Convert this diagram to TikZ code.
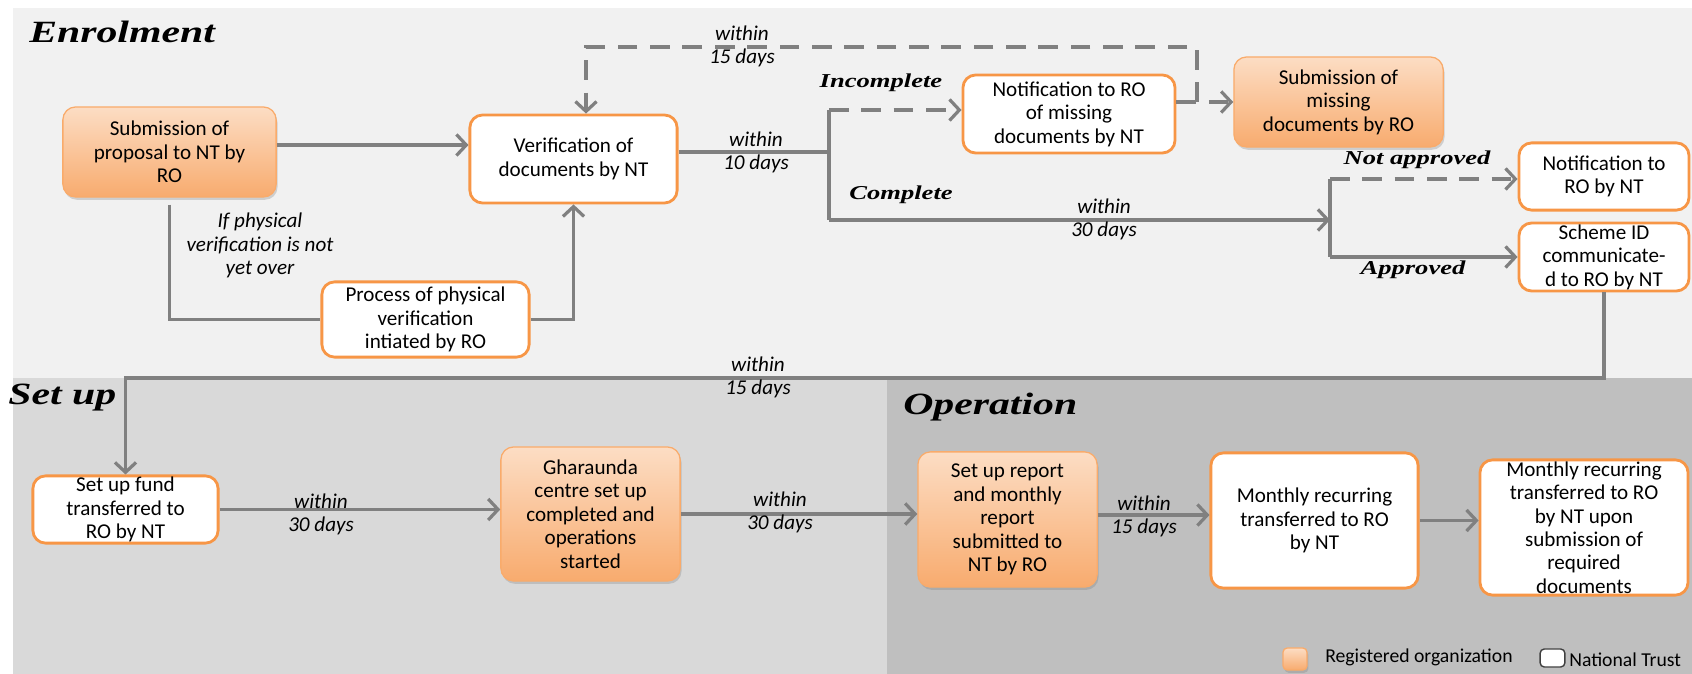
\documentclass[tikz,border=0pt]{standalone}
\usepackage{fontspec}
\setmainfont{Carlito}
\newfontfamily\headserif[FakeStretch=1.35]{Liberation Serif}
\usetikzlibrary{arrows.meta,shadows}

\definecolor{flowgray}{HTML}{808080}
\definecolor{orgedge}{HTML}{F79646}
\definecolor{orgtop}{HTML}{FCDDC4}
\definecolor{orgbot}{HTML}{F8AB6E}
\definecolor{enrolbg}{HTML}{F1F1F1}
\definecolor{setupbg}{HTML}{D9D9D9}
\definecolor{operbg}{HTML}{BFBFBF}

\newcommand{\boxfont}{\fontsize{15}{16.7}\selectfont}
\newcommand{\daysfont}{\fontsize{15}{16.5}\selectfont\itshape}
\newcommand{\branchfont}{\headserif\fontsize{14}{16}\selectfont\bfseries\itshape}
\newcommand{\titlefont}{\headserif\fontsize{22}{26}\selectfont\bfseries\itshape}

\tikzset{
  orgbox/.style={draw=orgedge!80, line width=0.9pt, rounded corners=9pt,
    top color=orgtop, bottom color=orgbot, align=center, font=\boxfont,
    inner sep=0pt, drop shadow={opacity=0.3, shadow xshift=1pt, shadow yshift=-2pt}},
  ntbox/.style={draw=orgedge, line width=2pt, fill=white, rounded corners=9pt,
    align=center, font=\boxfont, inner sep=0pt},
  flow/.style={draw=flowgray, line width=2.3pt},
  flowarr/.style={flow, -{Straight Barb[length=7pt,width=15pt]}},
  dashflow/.style={flow, dash pattern=on 14pt off 9pt},
  dasharr/.style={dashflow, -{Straight Barb[length=7pt,width=15pt]}},
  daylabel/.style={font=\daysfont, align=center},
  branchlabel/.style={font=\branchfont},
  sectitle/.style={font=\titlefont, anchor=base west, inner sep=0pt}
}

\begin{document}
\begin{tikzpicture}[x=0.025cm, y=-0.025cm]
  \useasboundingbox (0,0) rectangle (1692,674);
  % the three stages
  \fill[enrolbg] (13,8) rectangle (1692,378);
  \fill[setupbg] (13,378) rectangle (887,674);
  \fill[operbg] (887,378) rectangle (1692,674);
  \node[sectitle] (enroltitle) at (29,43) {Enrolment};
  \node[sectitle] (setuptitle) at (8,405) {Set up};
  \node[sectitle] (opertitle) at (903,415) {Operation};

  % enrolment
  \node[orgbox, minimum width=5.33cm, minimum height=2.25cm] (proposal) at (169.5,152)
    {Submission of\\proposal to NT by\\RO};
  \node[ntbox, minimum width=5.18cm, minimum height=2.2cm] (verify) at (573.5,159)
    {Verification of\\documents by NT};
  \node[ntbox, minimum width=5.18cm, minimum height=1.88cm] (physical) at (425.5,319.5)
    {Process of physical\\verification\\intiated by RO};
  \node[ntbox, minimum width=5.3cm, minimum height=1.95cm] (notify) at (1069,114)
    {Notification to RO\\of missing\\documents by NT};
  \node[orgbox, minimum width=5.23cm, minimum height=2.25cm] (missing) at (1338.5,102)
    {Submission of\\missing\\documents by RO};
  \node[ntbox, minimum width=4.25cm, minimum height=1.68cm] (rejected) at (1604,176.5)
    {Notification to\\RO by NT};
  \node[ntbox, minimum width=4.25cm, minimum height=1.7cm] (schemeid) at (1604,257)
    {Scheme ID\\communicate-\\d to RO by NT};

  \coordinate (splittop) at (829,110);
  \coordinate (splitbot) at (829,220);
  \coordinate (decide) at (1330,220);
  \coordinate (decidetop) at (1330,179);
  \coordinate (decidebot) at (1330,257);
  \coordinate (loopback) at (1197,102);

  \draw[flowarr] (proposal.east |- 0,145) -- (verify.west |- 0,145);
  \draw[flow, shorten <=5pt] (proposal.south) |- (physical.west);
  \draw[flowarr] (physical.east) -| (verify.south);
  \draw[flow] (verify.east |- 0,152) -- (splittop |- 0,152);
  \draw[flow] (splittop) -- (splitbot);
  \draw[dasharr] (splittop) -- (splittop -| notify.west);
  \draw[dasharr] (missing.west -| notify.east) -- (missing.west);
  \draw[dasharr] (loopback) |- (586,47) -- (verify.north -| 586,0);
  \draw[flowarr] (splitbot) -- (decide);
  \draw[flow] (decidetop) -- (decidebot);
  \draw[dasharr] (decidetop) -- (decidetop -| rejected.west);
  \draw[flowarr] (decidebot) -- (decidebot -| schemeid.west);

  \node[daylabel] (physlabel) at (260,245.5) {If physical\\verification is not\\yet over};
  \node[daylabel] (tendays) at (756,152) {within\\10 days};
  \node[daylabel] (loopdays) at (742,46) {within\\15 days};
  \node[daylabel] (complete30) at (1104,219.5) {within\\30 days};
  \node[branchlabel] (incomplete) at (881,83) {Incomplete};
  \node[branchlabel] (complete) at (901,195) {Complete};
  \node[branchlabel] (notappr) at (1417,160) {Not approved};
  \node[branchlabel] (appr) at (1413,270) {Approved};

  % set up and operation
  \node[ntbox, minimum width=4.63cm, minimum height=1.68cm] (setfund) at (125.5,509.5)
    {Set up fund\\transferred to\\RO by NT};
  \node[orgbox, minimum width=4.48cm, minimum height=3.35cm] (centre) at (590.5,514)
    {Gharaunda\\centre set up\\completed and\\operations\\started};
  \node[orgbox, minimum width=4.48cm, minimum height=3.38cm] (report) at (1007.5,519.5)
    {Set up report\\and monthly\\report\\submitted to\\NT by RO};
  \node[ntbox, minimum width=5.18cm, minimum height=3.38cm] (monthly) at (1314.5,520.5)
    {Monthly recurring\\transferred to RO\\by NT};
  \node[ntbox, minimum width=5.2cm, minimum height=3.38cm] (final) at (1584,527.5)
    {Monthly recurring\\transferred to RO\\by NT upon\\submission of\\required\\documents};

  \draw[flowarr] (schemeid.south) -- (schemeid.south |- 0,378) -| (setfund.north);
  \draw[flowarr] (setfund.east) -- (setfund.east -| centre.west);
  \draw[flowarr] (centre.east) -- (centre.east -| report.west);
  \draw[flowarr] (report.east |- 0,515) -- (monthly.west |- 0,515);
  \draw[flowarr] (monthly.east) -- (monthly.east -| final.west);

  \node[daylabel] (setupdays) at (758,377) {within\\15 days};
  \node[daylabel] (funddays) at (321,514) {within\\30 days};
  \node[daylabel] (centredays) at (780,512) {within\\30 days};
  \node[daylabel] (reportdays) at (1144,516.5) {within\\15 days};

  % legend
  \node[orgbox, rounded corners=3pt, minimum width=0.6cm, minimum height=0.55cm] (legorg) at (1295,659) {};
  \node[font=\fontsize{14}{16}\selectfont, anchor=west, inner sep=0pt] (legorgtext) at (1325,657) {Registered organization};
  \node[draw=black!75, line width=1pt, fill=white, rounded corners=3pt, minimum width=0.62cm, minimum height=0.45cm] (legnt) at (1552.5,658) {};
  \node[font=\fontsize{14}{16}\selectfont, anchor=west, inner sep=0pt] (legnttext) at (1569,660) {National Trust};
\end{tikzpicture}
\end{document}
